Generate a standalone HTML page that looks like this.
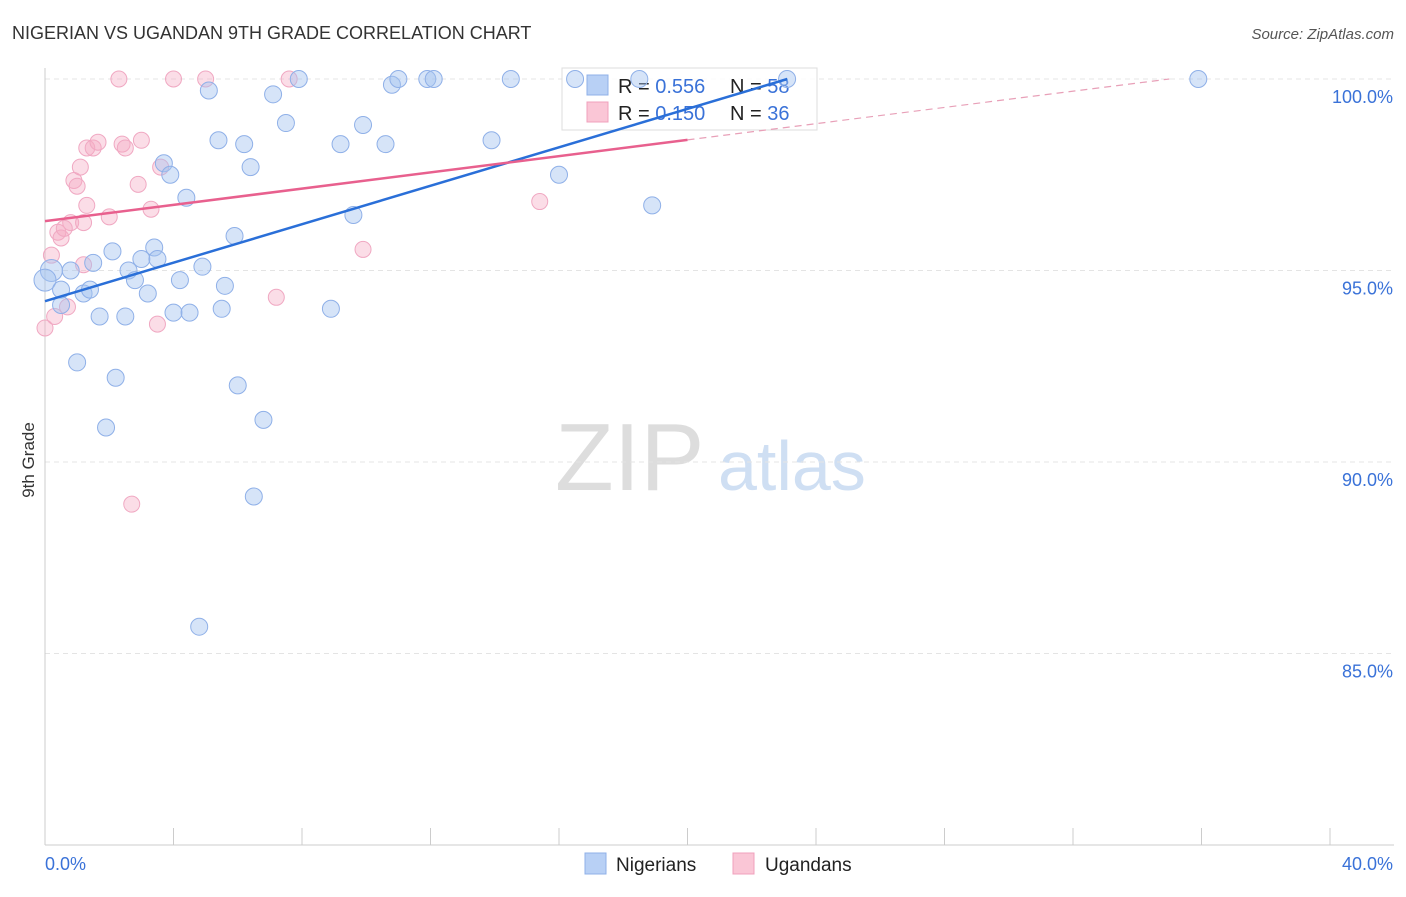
<!DOCTYPE html>
<html><head><meta charset="utf-8"><style>
body{margin:0;background:#fff;font-family:"Liberation Sans",sans-serif}
svg text{font-family:"Liberation Sans",sans-serif}
</style></head><body>
<svg id="c" width="1406" height="892" xmlns="http://www.w3.org/2000/svg">
<text x="12" y="39" font-size="18" fill="#333">NIGERIAN VS UGANDAN 9TH GRADE CORRELATION CHART</text>
<text x="1394" y="39" font-size="15" fill="#555" font-style="italic" text-anchor="end">Source: ZipAtlas.com</text>
<text x="34" y="460" font-size="17" fill="#333" transform="rotate(-90 34 460)" text-anchor="middle">9th Grade</text>
<text x="555" y="490" font-size="96" fill="#ddd" font-family="Liberation Serif">ZIP</text>
<text x="718" y="490" font-size="70" fill="#cfdff3">atlas</text>
<g id="grid"></g>
<g>
<rect x="562" y="68" width="255" height="62" fill="#fff" fill-opacity="0.85" stroke="#ddd"/>
<rect x="587" y="75" width="21" height="20" fill="#b8d0f5" stroke="#8fb0e8"/>
<rect x="587" y="102" width="21" height="20" fill="#fac6d6" stroke="#f0a0bc"/>
<text x="618" y="93" font-size="20" fill="#222">R = <tspan fill="#3a72d8">0.556</tspan><tspan x="730">N = </tspan><tspan fill="#3a72d8">58</tspan></text>
<text x="618" y="120" font-size="20" fill="#222">R = <tspan fill="#3a72d8"> 0.150</tspan><tspan x="730">N = </tspan><tspan fill="#3a72d8">36</tspan></text>
</g>
<g id="pts"></g><g id="lines"></g>
<g>
<rect x="585" y="853" width="21" height="21" fill="#b8d0f5" stroke="#8fb0e8"/>
<text x="616" y="871" font-size="19" fill="#222">Nigerians</text>
<rect x="733" y="853" width="21" height="21" fill="#fac6d6" stroke="#f0a0bc"/>
<text x="765" y="871" font-size="19" fill="#222">Ugandans</text>
</g>
</svg>
<script>
const xTickLabels=["0.0%","40.0%"];
const yTicks=[100,95,90,85];
const blueX=[0.2,0.0,0.5,0.8,0.5,1.2,1.4,1.5,1.7,2.1,2.5,2.2,1.9,1.0,2.6,2.8,3.0,3.2,3.4,3.5,3.7,3.9,4.0,4.2,4.4,4.5,4.8,4.9,5.1,5.4,5.5,5.6,5.9,6.0,6.2,6.4,6.5,6.8,7.1,7.5,7.9,8.9,9.2,9.6,9.9,10.6,10.8,11.0,11.9,12.1,13.9,14.5,16.0,16.5,18.5,18.9,23.1,35.9];
const blueY=[95.0,94.75,94.5,95.0,94.1,94.4,94.5,95.2,93.8,95.5,93.8,92.2,90.9,92.6,95.0,94.75,95.3,94.4,95.6,95.3,97.8,97.5,93.9,94.75,96.9,93.9,85.7,95.1,99.7,98.4,94.0,94.6,95.9,92.0,98.3,97.7,89.1,91.1,99.6,98.85,100,94.0,98.3,96.45,98.8,98.3,99.85,100,100,100,98.4,100,97.5,100,100,96.7,100,100];
const pinkX=[0.0,0.2,0.3,0.4,0.5,0.7,0.8,0.9,1.0,1.1,1.2,1.3,1.2,1.3,1.5,1.65,2.0,2.3,2.4,2.5,2.7,2.9,3.0,3.3,3.5,3.6,4.0,5.0,7.2,7.6,9.9,15.4,0.6];
const pinkY=[93.5,95.4,93.8,96.0,95.85,94.05,96.25,97.35,97.2,97.7,96.25,96.7,95.15,98.2,98.2,98.35,96.4,100,98.3,98.2,88.9,97.25,98.4,96.6,93.6,97.7,100,100,94.3,100,95.55,96.8,96.1];
const blueTrend=[94.2,0.251];
const pinkTrend=[96.29,0.106];
const NS="http://www.w3.org/2000/svg";
const X=v=>45+v*(1285/40), Y=v=>79+(100-v)*38.3;
function mk(t,a,p){const e=document.createElementNS(NS,t);for(const k in a)e.setAttribute(k,a[k]);p.appendChild(e);return e;}
const grid=document.getElementById('grid');
yTicks.forEach(t=>{const l=mk('line',{x1:45,x2:1394,y1:Y(t),y2:Y(t),stroke:'#e4e4e4','stroke-dasharray':'5,4'},grid);


const tx=mk('text',{x:1393,y:Y(t)+24,'font-size':18,fill:'#3a72d8','text-anchor':'end'},grid);tx.textContent=t.toFixed(1)+'%';

});
const ax=mk('line',{x1:45,x2:45,y1:68,y2:845,stroke:'#ccc'},grid);


const bx=mk('line',{x1:45,x2:1394,y1:845,y2:845,stroke:'#ccc'},grid);


for(let i=1;i<=10;i++){const t=mk('line',{x1:X(i*4),x2:X(i*4),y1:828,y2:845,stroke:'#ccc'},grid);

}
const xl0=mk('text',{x:45,y:870,'font-size':18,fill:'#3a72d8'},grid);xl0.textContent=xTickLabels[0];


const xl1=mk('text',{x:1393,y:870,'font-size':18,fill:'#3a72d8','text-anchor':'end'},grid);xl1.textContent=xTickLabels[1];


const pts=document.getElementById('pts');
pinkX.forEach((x,i)=>{const c=mk('circle',{cx:X(x),cy:Y(pinkY[i]),r:8,fill:'rgba(245,170,195,0.4)',stroke:'#f0a8c2'},pts);

});
blueX.forEach((x,i)=>{const c=mk('circle',{cx:X(x),cy:Y(blueY[i]),r:i<2?11:8.5,fill:'rgba(165,195,240,0.45)',stroke:'#8fb0e8'},pts);

});
const lines=document.getElementById('lines');
const bEnd=(100-blueTrend[0])/blueTrend[1];
const bl=mk('line',{x1:X(0),y1:Y(blueTrend[0]),x2:X(bEnd),y2:Y(100),stroke:'#2a6fd8','stroke-width':2.5},lines);


const pl=mk('line',{x1:X(0),y1:Y(pinkTrend[0]),x2:X(20),y2:Y(pinkTrend[0]+20*pinkTrend[1]),stroke:'#e8608e','stroke-width':2.5},lines);


const pEnd=(100-pinkTrend[0])/pinkTrend[1];
const pd=mk('line',{x1:X(20),y1:Y(pinkTrend[0]+20*pinkTrend[1]),x2:X(pEnd),y2:Y(100),stroke:'#e8a0b8','stroke-width':1.2,'stroke-dasharray':'7,5'},lines);


</script>
</body></html>
